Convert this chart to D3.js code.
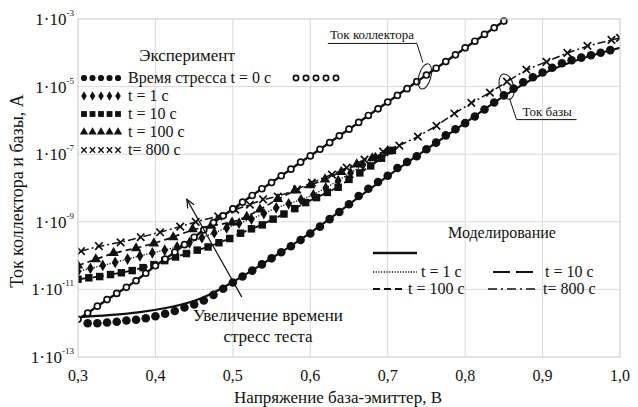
<!DOCTYPE html>
<html>
<head>
<meta charset="utf-8">
<script src="https://cdnjs.cloudflare.com/ajax/libs/d3/7.8.5/d3.min.js"></script>
<style>
body{margin:0;background:#fff;}
text{font-family:"Liberation Serif","Times New Roman",serif;fill:#111;}
</style>
</head>
<body>
<svg id="chart" width="638" height="407"></svg>
<script>
// ---- data ----
const xTicks = [0.3,0.4,0.5,0.6,0.7,0.8,0.9,1.0];
const xTickLabels = ["0,3","0,4","0,5","0,6","0,7","0,8","0,9","1,0"];
const yTicks = [1e-13,1e-11,1e-9,1e-7,1e-5,1e-3];
const yTickExp = ["-13","-11","-9","-7","-5","-3"];

// collector current, t = 0 (open circles)
const collV = [0.3,0.3125,0.325,0.3375,0.35,0.3625,0.375,0.3875,0.4,0.4125,0.425,0.4375,0.45,0.4625,0.475,0.4875,0.5,0.5125,0.525,0.5375,0.55,0.5625,0.575,0.5875,0.6,0.6125,0.625,0.6375,0.65,0.6625,0.675,0.6875,0.7,0.7125,0.725,0.7375,0.75,0.7625,0.775,0.7875,0.8,0.8125,0.825,0.8375,0.85];
const collI = [1.3e-12,2.0e-12,3.2e-12,5.0e-12,7.6e-12,1.15e-11,1.8e-11,3.0e-11,5.0e-11,7.9e-11,1.26e-10,2.1e-10,3.5e-10,5.8e-10,9.5e-10,1.5e-9,2.4e-9,3.8e-9,6.0e-9,9.5e-9,1.45e-8,2.3e-8,3.6e-8,5.8e-8,8.9e-8,1.4e-7,2.2e-7,3.5e-7,5.5e-7,8.7e-7,1.4e-6,2.2e-6,3.5e-6,5.5e-6,8.7e-6,1.4e-5,2.2e-5,3.5e-5,5.5e-5,8.7e-5,1.4e-4,2.2e-4,3.5e-4,5.5e-4,8.7e-4];

// base current, t = 0 (filled circles)
const base0V = [0.3125,0.325,0.3375,0.35,0.3625,0.375,0.3875,0.4,0.4125,0.425,0.4375,0.45,0.4625,0.475,0.4875,0.5,0.5125,0.525,0.5375,0.55,0.5625,0.575,0.5875,0.6,0.6125,0.625,0.6375,0.65,0.6625,0.675,0.6875,0.7,0.7125,0.725,0.7375,0.75,0.7625,0.775,0.7875,0.8,0.8125,0.825,0.8375,0.85,0.8625,0.875,0.8875,0.9,0.9125,0.925,0.9375,0.95,0.9625,0.975,0.9875];
const base0I = [1.0e-12,1.0e-12,1.05e-12,1.1e-12,1.2e-12,1.26e-12,1.4e-12,1.6e-12,1.9e-12,2.3e-12,2.9e-12,3.6e-12,4.7e-12,6.9e-12,1.05e-11,1.6e-11,2.4e-11,3.6e-11,5.5e-11,8.3e-11,1.26e-10,1.9e-10,2.9e-10,4.5e-10,7.2e-10,1.2e-9,1.95e-9,3.3e-9,5.8e-9,9.5e-9,1.5e-8,2.3e-8,3.9e-8,5.9e-8,8.7e-8,1.4e-7,2.2e-7,3.6e-7,5.5e-7,8.3e-7,1.3e-6,2.1e-6,3.4e-6,5.5e-6,8.7e-6,1.35e-5,1.9e-5,2.6e-5,3.6e-5,4.9e-5,6.0e-5,7.2e-5,8.5e-5,1.0e-4,1.2e-4];

// base current model, t = 0 (solid line)
const simBase0V = [0.3,0.34,0.38,0.42,0.46,0.5,0.55,0.6,0.65,0.7,0.75,0.8,0.85,0.9,0.95,1.0];
const simBase0I = [1.5e-12,1.7e-12,2.1e-12,2.9e-12,5.0e-12,1.6e-11,8.3e-11,4.5e-10,3.3e-9,2.3e-8,1.4e-7,8.3e-7,5.5e-6,2.6e-5,7.0e-5,1.4e-4];

// base current after stress
const t1V = [0.3,0.316,0.332,0.348,0.364,0.38,0.396,0.412,0.428,0.444,0.46,0.476,0.492,0.508,0.524,0.54,0.556,0.572,0.588,0.604,0.62,0.636,0.652,0.668,0.684,0.7];
const t1I = [3.4e-11,4.2e-11,5.1e-11,6.3e-11,7.9e-11,9.8e-11,1.2e-10,1.45e-10,1.8e-10,2.4e-10,3.4e-10,4.7e-10,6.6e-10,9.1e-10,1.2e-9,1.75e-9,2.6e-9,3.4e-9,4.5e-9,6.3e-9,1.0e-8,1.65e-8,2.8e-8,4.8e-8,7.9e-8,1.26e-7];

const t10V = [0.3,0.314,0.328,0.342,0.356,0.37,0.384,0.398,0.412,0.426,0.44,0.454,0.468,0.482,0.496,0.51,0.524,0.538,0.552,0.566,0.58,0.594,0.608,0.622,0.636,0.65,0.664,0.678,0.692,0.706];
const t10I = [2.0e-11,2.2e-11,2.4e-11,2.75e-11,3.1e-11,3.6e-11,4.4e-11,5.4e-11,7.1e-11,9.1e-11,1.15e-10,1.45e-10,1.8e-10,2.4e-10,3.2e-10,4.6e-10,6.2e-10,8.1e-10,1.2e-9,1.7e-9,2.45e-9,3.7e-9,5.2e-9,7.4e-9,1.05e-8,1.8e-8,2.8e-8,4.5e-8,7.6e-8,1.3e-7];

const t100V = [0.3,0.323,0.346,0.375,0.398,0.423,0.448,0.472,0.499,0.518,0.535,0.558,0.58,0.6,0.619,0.64,0.66,0.68,0.7];
const t100I = [5.1e-11,7.8e-11,1.2e-10,1.65e-10,2.3e-10,3.5e-10,6.0e-10,7.6e-10,9.5e-10,1.4e-9,2.3e-9,4.7e-9,8.5e-9,1.2e-8,1.8e-8,3.0e-8,5.0e-8,7.6e-8,1.2e-7];

const t800V = [0.304,0.327,0.355,0.381,0.406,0.432,0.452,0.481,0.503,0.522,0.539,0.558,0.583,0.602,0.628,0.647,0.67,0.694,0.715,0.739,0.763,0.786,0.808,0.832,0.854,0.879,0.905,0.932,0.958,0.989,1.0];
const t800I = [1.35e-10,1.9e-10,2.45e-10,3.5e-10,4.9e-10,7.2e-10,1.0e-9,1.45e-9,2.3e-9,3.2e-9,4.6e-9,5.6e-9,9.1e-9,1.45e-8,2.5e-8,4.0e-8,6.9e-8,1.2e-7,1.8e-7,3.3e-7,6.9e-7,1.6e-6,3.3e-6,6.6e-6,1.4e-5,3.2e-5,5.4e-5,1.0e-4,1.6e-4,2.4e-4,2.75e-4];

// ---- chart ----
const W = 638, H = 407;
const m = {left:78, right:18, top:19, bottom:50};
const svg = d3.select("#chart");

const x = d3.scaleLinear().domain([0.3,1.0]).range([m.left, W-m.right]);
const y = d3.scaleLog().domain([1e-13,1e-3]).range([H-m.bottom, m.top]);

const zip = (v,i) => v.map((d,k) => [d, i[k]]);

// grid
svg.append("g").selectAll("line").data(xTicks).join("line")
  .attr("x1", d=>x(d)).attr("x2", d=>x(d))
  .attr("y1", m.top).attr("y2", H-m.bottom)
  .attr("stroke","#d9d9d9").attr("stroke-width",1);
svg.append("g").selectAll("line").data(yTicks).join("line")
  .attr("y1", d=>y(d)).attr("y2", d=>y(d))
  .attr("x1", m.left).attr("x2", W-m.right)
  .attr("stroke","#d9d9d9").attr("stroke-width",1);

// tick labels
svg.append("g").selectAll("text").data(xTicks).join("text")
  .attr("x", d=>x(d)).attr("y", H-m.bottom+24)
  .attr("text-anchor","middle").attr("font-size",16)
  .text((d,i)=>xTickLabels[i]);

const yl = svg.append("g").selectAll("text").data(yTicks).join("text")
  .attr("x", m.left-4).attr("y", d=>y(d)+6)
  .attr("text-anchor","end").attr("font-size",17);
yl.append("tspan").text("1·10");
yl.append("tspan").attr("font-size",9).attr("dy",-9).text((d,i)=>yTickExp[i]);

// axis titles
svg.append("text").attr("x",338).attr("y",403).attr("text-anchor","middle")
  .attr("font-size",17).text("Напряжение база-эмиттер, В");
svg.append("text").attr("transform","translate(23,191) rotate(-90)")
  .attr("text-anchor","middle").attr("font-size",18).text("Ток коллектора и базы, А");

// plot
svg.append("clipPath").attr("id","clip").append("rect")
  .attr("x",m.left).attr("y",m.top-2).attr("width",W-m.left-m.right).attr("height",H-m.top-m.bottom+2);
const plot = svg.append("g").attr("clip-path","url(#clip)");

const line = d3.line().x(d=>x(d[0])).y(d=>y(d[1])).curve(d3.curveBasis);

const lines = [
  {data: zip(collV,collI), dash:null, w:2.4},
  {data: zip(simBase0V,simBase0I), dash:null, w:2.2},
  {data: zip(t1V,t1I), dash:"1.2,1.5", w:1.4},
  {data: zip(t10V,t10I), dash:"11,4", w:1.8},
  {data: zip(t100V,t100I), dash:"6,4", w:1.7},
  {data: zip(t800V,t800I), dash:"8,3,2,3", w:1.5}
];
plot.selectAll("path.sim").data(lines).join("path").attr("class","sim")
  .attr("d", d=>line(d.data)).attr("fill","none").attr("stroke","#111")
  .attr("stroke-width", d=>d.w).attr("stroke-dasharray", d=>d.dash);

const series = [
  {data: zip(t10V,t10I), type:d3.symbolSquare, size:56, fill:"#111", stroke:"none"},
  {data: zip(t1V,t1I), type:d3.symbolDiamond, size:40, fill:"#111", stroke:"none"},
  {data: zip(t100V,t100I), type:d3.symbolTriangle, size:48, fill:"#111", stroke:"none"},
  {data: zip(t800V,t800I), type:d3.symbolTimes, size:38, fill:"none", stroke:"#111"},
  {data: zip(base0V,base0I), type:d3.symbolCircle, size:58, fill:"#111", stroke:"none"},
  {data: zip(collV,collI), type:d3.symbolCircle, size:28, fill:"#fff", stroke:"#111"}
];
series.forEach(s => {
  plot.append("g").selectAll("path").data(s.data).join("path")
    .attr("transform", d=>`translate(${x(d[0])},${y(d[1])})`)
    .attr("d", d3.symbol().type(s.type).size(s.size))
    .attr("fill", s.fill).attr("stroke", s.stroke).attr("stroke-width",1.7);
});

// plot border
svg.append("rect").attr("x",m.left).attr("y",m.top)
  .attr("width",W-m.left-m.right).attr("height",H-m.top-m.bottom)
  .attr("fill","none").attr("stroke","#d9d9d9");

// ---- legend: experiment ----
const legRows = [
  {type:d3.symbolCircle, size:30, fill:"#111", stroke:"none", label:"Время стресса t = 0 с"},
  {type:d3.symbolDiamond, size:26, fill:"#111", stroke:"none", label:"t = 1 с"},
  {type:d3.symbolSquare, size:34, fill:"#111", stroke:"none", label:"t = 10 с"},
  {type:d3.symbolTriangle, size:30, fill:"#111", stroke:"none", label:"t = 100 с"},
  {type:d3.symbolTimes, size:20, fill:"none", stroke:"#111", label:"t= 800 с"}
];
const leg = svg.append("g");
leg.append("text").attr("x",187).attr("y",61).attr("text-anchor","middle")
  .attr("font-size",17).text("Эксперимент");
legRows.forEach((r,i) => {
  const ly = 78 + i*18;
  leg.append("g").selectAll("path").data(d3.range(5)).join("path")
    .attr("transform", k=>`translate(${84+k*8.5},${ly})`)
    .attr("d", d3.symbol().type(r.type).size(r.size))
    .attr("fill", r.fill).attr("stroke", r.stroke).attr("stroke-width",1.4);
  leg.append("text").attr("x",128).attr("y",ly+5).attr("font-size",16).text(r.label);
});
leg.append("g").selectAll("path").data(d3.range(5)).join("path")
  .attr("transform", k=>`translate(${296+k*10},78)`)
  .attr("d", d3.symbol().type(d3.symbolCircle).size(22))
  .attr("fill","#fff").attr("stroke","#111").attr("stroke-width",1.7);

// ---- legend: model ----
const mleg = svg.append("g");
mleg.append("text").attr("x",502).attr("y",238).attr("text-anchor","middle")
  .attr("font-size",16).text("Моделирование");
const modelItems = [
  {x0:373, x1:417, y:253, dash:null, w:2.6, label:"", tx:0},
  {x0:373, x1:417, y:272, dash:"1.2,1.5", w:1.3, label:"t = 1 с", tx:421},
  {x0:493, x1:535, y:272, dash:"17,6", w:2, label:"t = 10 с", tx:545},
  {x0:373, x1:405, y:289, dash:"7,4", w:2, label:"t = 100 с", tx:408},
  {x0:488, x1:537, y:289, dash:"9,4,2,4", w:1.6, label:"t= 800 с", tx:543}
];
modelItems.forEach(d => {
  mleg.append("line").attr("x1",d.x0).attr("x2",d.x1).attr("y1",d.y).attr("y2",d.y)
    .attr("stroke","#111").attr("stroke-width",d.w).attr("stroke-dasharray",d.dash);
  if (d.label) mleg.append("text").attr("x",d.tx).attr("y",d.y+5).attr("font-size",16).text(d.label);
});

// ---- annotations ----
const ann = svg.append("g").attr("fill","none").attr("stroke","#111").attr("stroke-width",1);
// collector
const cE = [x(0.748), y(2.0e-5)];
ann.append("ellipse").attr("cx",cE[0]).attr("cy",cE[1]).attr("rx",6).attr("ry",13)
  .attr("transform",`rotate(15,${cE[0]},${cE[1]})`);
ann.append("path").attr("d",`M${cE[0]-97},${cE[1]-33} H${cE[0]-8} L${cE[0]-2},${cE[1]-14}`);
svg.append("text").attr("x",cE[0]-95).attr("y",cE[1]-37).attr("font-size",13).text("Ток коллектора");
// base
const bE = [x(0.8535), y(1.0e-5)];
ann.append("ellipse").attr("cx",bE[0]).attr("cy",bE[1]).attr("rx",7).attr("ry",13)
  .attr("transform",`rotate(-15,${bE[0]},${bE[1]})`);
ann.append("path").attr("d",`M${bE[0]+3},${bE[1]+12} L${bE[0]+10},${bE[1]+33} H${bE[0]+70}`);
svg.append("text").attr("x",bE[0]+16).attr("y",bE[1]+29).attr("font-size",13).text("Ток базы");

// arrow "increase of stress time"
const a0 = [x(0.5116), y(5.9e-12)], a1 = [x(0.4406), y(4.6e-9)];
ann.append("line").attr("x1",a0[0]).attr("y1",a0[1]).attr("x2",a1[0]).attr("y2",a1[1]).attr("stroke-width",1.2);
const ang = Math.atan2(a1[1]-a0[1], a1[0]-a0[0]);
const hl = 9, ha = 0.42;
ann.append("path").attr("stroke-width",1.2)
  .attr("d",`M${a1[0]-hl*Math.cos(ang-ha)},${a1[1]-hl*Math.sin(ang-ha)} L${a1[0]},${a1[1]} L${a1[0]-hl*Math.cos(ang+ha)},${a1[1]-hl*Math.sin(ang+ha)}`);
svg.append("text").attr("x",268).attr("y",321).attr("text-anchor","middle")
  .attr("font-size",17).text("Увеличение времени");
svg.append("text").attr("x",268).attr("y",342).attr("text-anchor","middle")
  .attr("font-size",17).text("стресс теста");
</script>
</body>
</html>
